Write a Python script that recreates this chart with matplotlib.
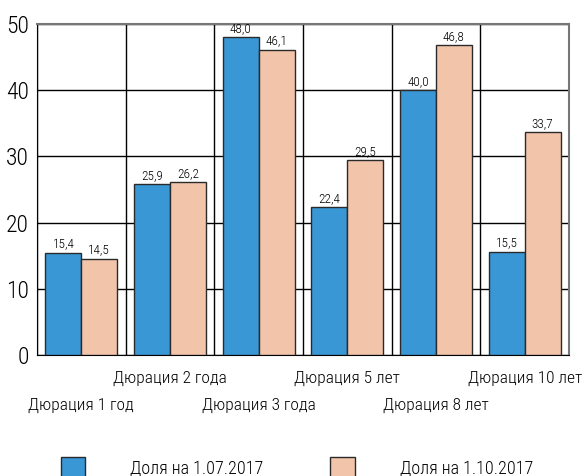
import matplotlib.pyplot as plt
import numpy as np
from matplotlib.patches import Patch

categories = ["Дюрация 1 год", "Дюрация 2 года", "Дюрация 3 года",
              "Дюрация 5 лет", "Дюрация 8 лет", "Дюрация 10 лет"]
share_jul = [15.4, 25.9, 48.0, 22.4, 40.0, 15.5]
share_oct = [14.5, 26.2, 46.1, 29.5, 46.8, 33.7]
series_names = ["Доля на 1.07.2017", "Доля на 1.10.2017"]

BLUE = "#3a97d5"
PEACH = "#f2c5ab"

plt.rcParams["font.family"] = ["Roboto Condensed", "DejaVu Sans"]
plt.rcParams["font.weight"] = "light"

fig = plt.figure(figsize=(5.85, 4.76), dpi=100)
ax = fig.add_axes([0.0632, 0.254, 0.9094, 0.6956])

x = np.arange(len(categories))
width = 0.405
b1 = ax.bar(x - width / 2, share_jul, width, color=BLUE, edgecolor="#2a2a2a", linewidth=1, zorder=3)
b2 = ax.bar(x + width / 2, share_oct, width, color=PEACH, edgecolor="#2a2a2a", linewidth=1, zorder=3)

for bars in (b1, b2):
    for bar in bars:
        h = bar.get_height()
        ax.text(bar.get_x() + bar.get_width() / 2, h + 0.3, f"{h:.1f}".replace(".", ","),
                ha="center", va="bottom", fontsize=9.5, zorder=4)

ax.set_xlim(-0.5, len(categories) - 0.5)
ax.set_ylim(0, 50)
ax.set_yticks(range(0, 51, 10))
ax.tick_params(axis="y", labelsize=17, length=0, pad=6)

# group separators as vertical grid
ax.set_xticks(np.arange(len(categories) + 1) - 0.5, minor=True)
ax.set_xticks([])
ax.grid(which="minor", axis="x", color="black", linewidth=1, zorder=0)
ax.grid(which="major", axis="y", color="black", linewidth=1, zorder=0)
ax.tick_params(which="minor", length=0)

for side in ("top", "right"):
    ax.spines[side].set_color("#777777")
    ax.spines[side].set_linewidth(1.5)
ax.spines["left"].set_color("black")
ax.spines["bottom"].set_color("black")

# staggered category labels
for i, name in enumerate(categories):
    y_off = -0.07 if i % 2 == 1 else -0.151
    ax.text(x[i], y_off, name, transform=ax.get_xaxis_transform(),
            ha="center", va="center", fontsize=12.5)

handles = [Patch(facecolor=BLUE, edgecolor="#2a2a2a"),
           Patch(facecolor=PEACH, edgecolor="#2a2a2a")]
fig.legend(handles, series_names, loc="center left", bbox_to_anchor=(0.104, 0.018),
           ncol=2, frameon=False, fontsize=13, handlelength=1.35, handleheight=1.35,
           handletextpad=2.5, columnspacing=3.7, borderpad=0, borderaxespad=0)

fig.savefig("out.png", dpi=100)
